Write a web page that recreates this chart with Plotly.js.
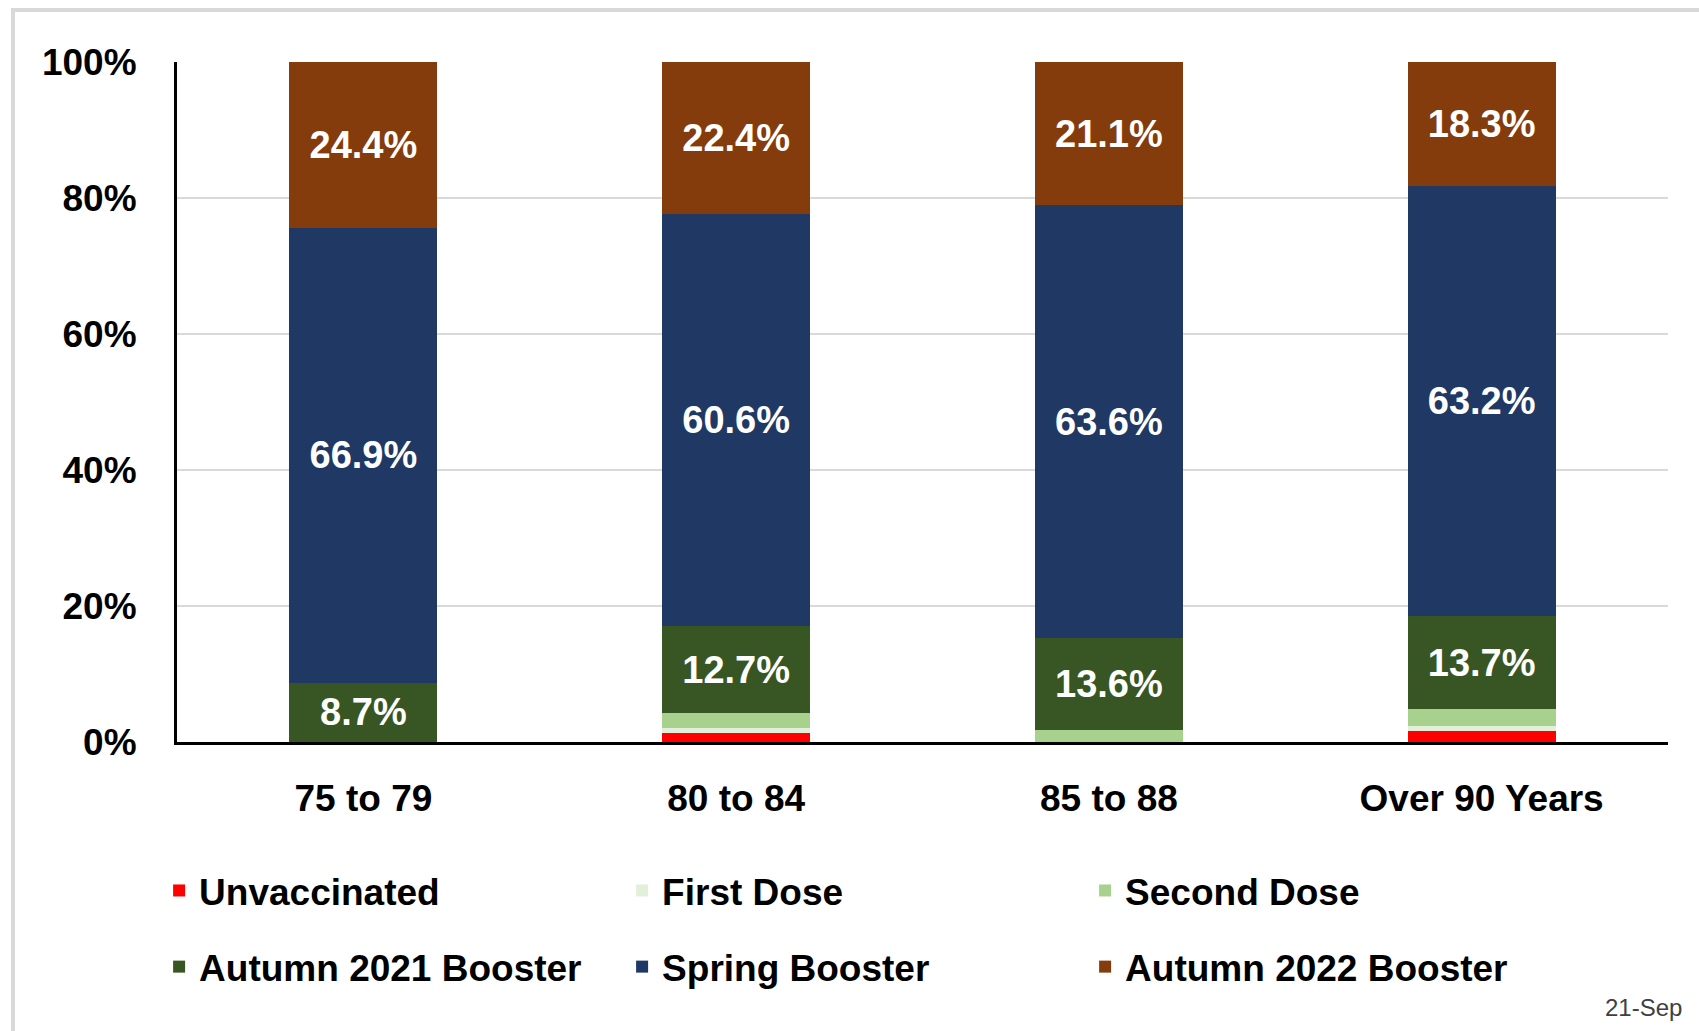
<!DOCTYPE html>
<html>
<head>
<meta charset="utf-8">
<script src="https://cdn.plot.ly/plotly-3.0.1.min.js"></script>
<style>
html,body{margin:0;padding:0;overflow:hidden;background:#fff}
#chart{width:1699px;height:1031px}
#frame{position:absolute;left:11px;top:8px;width:1740px;height:1080px;border:4px solid #d9d9d9;box-sizing:border-box;pointer-events:none}
</style>
</head>
<body>
<div id="chart"></div>
<div id="frame"></div>
<script>
const categories = ['75 to 79', '80 to 84', '85 to 88', 'Over 90 Years'];
const unvaccinated = [0, 1.3, 0, 1.6];
const firstDose = [0, 0.8, 0, 0.7];
const secondDose = [0, 2.2, 1.7, 2.5];
const autumn2021 = [8.7, 12.7, 13.6, 13.7];
const springBooster = [66.9, 60.6, 63.6, 63.2];
const autumn2022 = [24.4, 22.4, 21.1, 18.3];
const yTickValues = [0, 20, 40, 60, 80, 100];
const yTickLabels = ['0%', '20%', '40%', '60%', '80%', '100%'];
const dateNote = '21-Sep';

const FAMILY = '"Liberation Sans", Arial, sans-serif';

function barTrace(name, values, color, legendId, showLabels) {
  const t = {
    type: 'bar',
    name: name,
    x: categories,
    y: values,
    legend: legendId,
    marker: {color: color, line: {width: 0}},
    hoverinfo: 'skip',
    textposition: 'none'
  };
  if (showLabels) {
    t.text = values.map(v => v.toFixed(1) + '%');
    t.textposition = 'inside';
    t.insidetextanchor = 'middle';
    t.textangle = 0;
    t.constraintext = 'none';
    t.textfont = {family: FAMILY, size: 38, color: '#ffffff', weight: 700};
  }
  return t;
}

const data = [
  barTrace('Unvaccinated', unvaccinated, '#ff0000', 'legend', false),
  barTrace('First Dose', firstDose, '#e2f0d9', 'legend', false),
  barTrace('Second Dose', secondDose, '#a9d18e', 'legend', false),
  barTrace('Autumn 2021 Booster', autumn2021, '#375623', 'legend2', true),
  barTrace('Spring Booster', springBooster, '#203864', 'legend2', true),
  barTrace('Autumn 2022 Booster', autumn2022, '#843c0c', 'legend2', true)
];

const legendBase = {
  orientation: 'h',
  x: -0.012,
  xanchor: 'left',
  yanchor: 'middle',
  entrywidth: 418,
  traceorder: 'normal',
  bgcolor: 'rgba(0,0,0,0)',
  font: {family: FAMILY, size: 37, color: '#000000', weight: 700}
};

const layout = {
  width: 1699,
  height: 1031,
  margin: {l: 177, r: 31, t: 62, b: 289},
  paper_bgcolor: '#ffffff',
  plot_bgcolor: '#ffffff',
  barmode: 'stack',
  bargap: 0.603,
  showlegend: true,
  font: {family: FAMILY, color: '#000000'},
  xaxis: {
    type: 'category',
    showline: true,
    linecolor: '#000000',
    linewidth: 3,
    ticks: '',
    showgrid: false,
    zeroline: false,
    ticklabelstandoff: 22,
    tickfont: {family: FAMILY, size: 37, color: '#000000', weight: 700}
  },
  yaxis: {
    range: [0, 100],
    tickvals: yTickValues,
    ticktext: yTickLabels,
    showline: true,
    linecolor: '#000000',
    linewidth: 3,
    ticks: '',
    showgrid: true,
    gridcolor: '#d9d9d9',
    gridwidth: 1.3,
    zeroline: false,
    ticklabelstandoff: 30,
    tickfont: {family: FAMILY, size: 37, color: '#000000', weight: 700}
  },
  legend: Object.assign({}, legendBase, {y: -0.219}),
  legend2: Object.assign({}, legendBase, {y: -0.331}),
  annotations: [{
    text: dateNote,
    xref: 'paper', yref: 'paper',
    x: 1.0107, y: -0.391,
    xanchor: 'right', yanchor: 'middle',
    showarrow: false,
    font: {family: FAMILY, size: 24, color: '#404040'}
  }]
};

Plotly.newPlot('chart', data, layout, {displayModeBar: false, staticPlot: true});
</script>
</body>
</html>
